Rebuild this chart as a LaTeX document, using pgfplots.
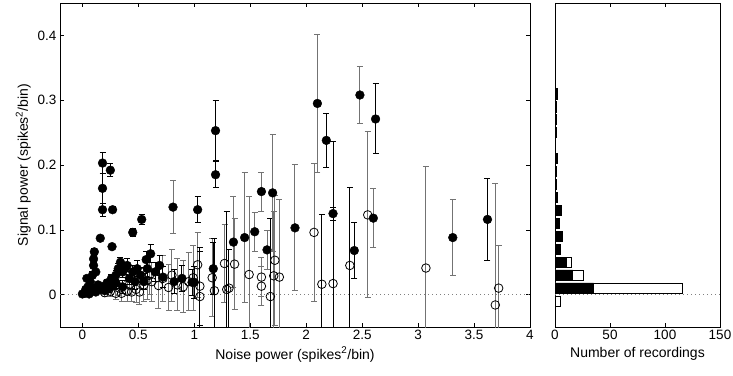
\documentclass[border=0pt]{standalone}
\usepackage{pgfplots}
\pgfplotsset{compat=1.18}
\usepackage{pgfplotstable}
\usepackage{fontspec}
\setmainfont{Liberation Sans}

% filled points, black error bars
\pgfplotstableread{
x y e
0.18 0.203 0.016
0.25 0.192 0.010
0.18 0.164 0.023
0.18 0.131 0.010
0.27 0.131 0.005
0.16 0.087 0.004
0.265 0.074 0.004
0.45 0.096 0.006
0.53 0.116 0.008
1.03 0.131 0.020
1.19 0.185 0.020
1.19 0.253 0.046
2.18 0.238 0.042
2.62 0.271 0.054
2.24 0.125 0.010
2.43 0.068 0.043
3.62 0.116 0.063
0.00 0.001 0.002
0.02 0.002 0.002
0.04 0.003 0.002
0.06 0.001 0.002
0.03 0.008 0.003
0.05 0.012 0.003
0.08 0.005 0.003
0.10 0.010 0.003
0.12 0.004 0.004
0.14 0.015 0.004
0.07 0.020 0.004
0.04 0.025 0.004
0.09 0.030 0.005
0.10 0.045 0.005
0.10 0.055 0.005
0.107 0.066 0.005
0.12 0.035 0.004
0.16 0.008 0.004
0.18 0.012 0.005
0.20 0.006 0.005
0.22 0.018 0.006
0.24 0.010 0.006
0.26 0.025 0.006
0.28 0.015 0.007
0.30 0.030 0.007
0.32 0.040 0.008
0.34 0.050 0.008
0.36 0.035 0.008
0.38 0.040 0.009
0.40 0.045 0.010
0.42 0.025 0.010
0.45 0.035 0.010
0.49 0.040 0.012
0.52 0.030 0.012
0.57 0.054 0.012
0.61 0.063 0.014
0.55 0.020 0.012
0.65 0.035 0.015
0.69 0.045 0.015
0.72 0.027 0.016
0.82 0.020 0.018
0.89 0.025 0.020
0.98 0.019 0.020
1.00 0.019 0.025
1.17 0.040 0.040
0.30 0.018 0.008
0.36 0.012 0.010
0.47 0.020 0.012
0.58 0.040 0.014
}\filledblack

% filled points, gray error bars
\pgfplotstableread{
x y e
0.81 0.135 0.041
1.60 0.159 0.030
1.70 0.157 0.090
1.90 0.103 0.097
2.10 0.295 0.107
2.48 0.308 0.044
2.60 0.118 0.046
3.31 0.088 0.059
1.54 0.097 0.030
1.45 0.088 0.100
1.35 0.081 0.070
1.65 0.069 0.030
}\filledgray

% hollow points, gray error bars
\pgfplotstableread{
x y e
0.30 0.002 0.010
0.35 0.002 0.012
0.40 0.005 0.015
0.44 0.004 0.015
0.48 0.008 0.020
0.51 0.004 0.020
0.55 0.015 0.025
0.58 0.022 0.030
0.62 0.020 0.030
0.68 0.014 0.035
0.72 0.025 0.035
0.77 0.011 0.035
0.80 0.030 0.040
0.85 0.015 0.040
0.90 0.012 0.040
0.95 0.020 0.045
0.99 0.026 0.050
0.25 0.005 0.008
0.20 0.003 0.006
0.33 0.010 0.012
0.42 0.015 0.015
0.60 0.030 0.030
1.03 0.046 0.050
1.16 0.026 0.060
1.27 0.048 0.060
1.36 0.047 0.070
1.49 0.031 0.120
1.60 0.027 0.030
1.60 0.013 0.030
1.72 0.053 0.100
1.71 0.029 0.100
1.76 0.027 0.120
2.07 0.096 0.107
2.55 0.123 0.128
3.07 0.041 0.156
3.69 -0.016 0.187
3.72 0.010 0.066
}\hollowgray

% hollow points, black error bars
\pgfplotstableread{
x y e
1.05 0.013 0.060
1.05 -0.003 0.070
1.18 0.006 0.080
1.29 0.008 0.120
1.31 0.010 0.060
1.68 -0.003 0.120
2.14 0.016 0.107
2.24 0.017 0.220
2.39 0.045 0.120
}\hollowblack

% histogram: bin centre, total count, significant count
\pgfplotstableread{
y tot sig
-0.01 5 0
0.01 116 35
0.03 26 16
0.05 15 10
0.07 5 5
0.09 7 7
0.11 4 4
0.13 6 6
0.15 2 2
0.17 1 1
0.19 1 1
0.21 2 2
0.25 1 1
0.27 1 1
0.29 1 1
0.31 2 2
}\hist

\begin{document}
\begin{tikzpicture}[x=1pt,y=1pt]
\path[use as bounding box] (-60pt,-48pt) rectangle (673pt,327pt);
\pgfplotsset{
  every axis/.append style={
    scale only axis, height=324pt,
    ymin=-0.05, ymax=0.45,
    tick align=inside, major tick length=4pt,
    axis line style={line width=0.8pt},
    every tick/.style={black, line width=0.6pt},
    tick label style={font=\fontsize{13.5}{15}\selectfont},
    label style={font=\fontsize{14}{16}\selectfont},
    /pgf/number format/assume math mode=true,
  },
  ebar/.style={error bars/.cd, y dir=both, y explicit,
    error bar style={#1, line width=1pt},
    error mark options={rotate=90, mark size=3pt, #1, line width=1pt}},
}
\begin{axis}[
  name=main,
  at={(0pt,0pt)}, anchor=south west, width=470pt,
  xmin=-0.2, xmax=4,
  xtick={0,0.5,1,1.5,2,2.5,3,3.5,4},
  ytick={0,0.1,0.2,0.3,0.4},
  tick pos=both,
  xlabel={Noise power (spikes\textsuperscript{2}/bin)},
  ylabel={Signal power (spikes\textsuperscript{2}/bin)},
]
\addplot[gray, line width=0.6pt, dash pattern=on 0.8pt off 3.2pt] coordinates {(-0.2,0) (4,0)};
\addplot[only marks, mark=o, mark size=4.3pt, mark options={black, line width=0.8pt, fill=none}, ebar={black!55}]
  table[x=x, y=y, y error=e] {\hollowgray};
\addplot[only marks, mark=o, mark size=4.3pt, mark options={black, line width=0.8pt, fill=none}, ebar={black}]
  table[x=x, y=y, y error=e] {\hollowblack};
\addplot[only marks, mark=*, mark size=4.4pt, mark options={black, fill=black}, ebar={black!55}]
  table[x=x, y=y, y error=e] {\filledgray};
\addplot[only marks, mark=*, mark size=4.4pt, mark options={black, fill=black}, ebar={black}]
  table[x=x, y=y, y error=e] {\filledblack};
\end{axis}

\begin{axis}[
  at={(main.south east)}, anchor=south west, xshift=25pt, width=165pt,
  xmin=0, xmax=150,
  xtick={0,50,100,150},
  ytick=\empty,
  xtick pos=both,
  xlabel={Number of recordings},
]
\addplot[gray, line width=0.6pt, dash pattern=on 0.8pt off 3.2pt] coordinates {(0,0) (150,0)};
\addplot[xbar, bar shift=0pt, bar width=0.016, draw=black, fill=white, line width=0.7pt]
  table[x=tot, y=y] {\hist};
\addplot[xbar, bar shift=0pt, bar width=0.016, draw=black, fill=black, line width=0.7pt]
  table[x=sig, y=y] {\hist};
\end{axis}
\end{tikzpicture}
\end{document}
